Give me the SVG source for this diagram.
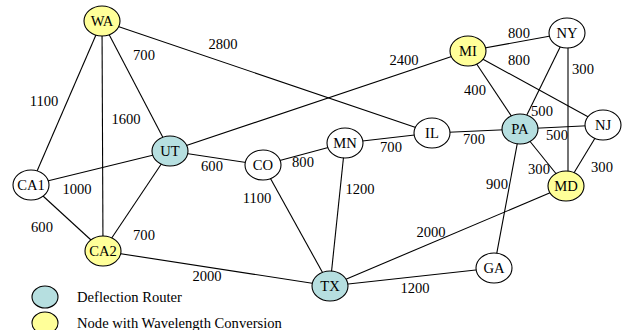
<svg xmlns="http://www.w3.org/2000/svg" width="624" height="330" viewBox="0 0 624 330">
<style>
.e{stroke:#000;stroke-width:1.1;fill:none}
.n ellipse{stroke:#000;stroke-width:1.1}
.w{fill:#fff}.y{fill:#ffff99}.c{fill:#b6dfe0}
text{font-family:"Liberation Serif","Times New Roman",serif;font-size:14.6px;fill:#000}
.n text{text-anchor:middle}
.l text{text-anchor:middle}
</style>
<rect width="624" height="330" fill="#fff"/>
<g id="connectors">
<line class="e" x1="102" y1="21" x2="31" y2="185"/>
<line class="e" x1="102" y1="21" x2="103" y2="251"/>
<line class="e" x1="102" y1="21" x2="170" y2="151"/>
<line class="e" x1="102" y1="21" x2="432" y2="133"/>
<line class="e" x1="170" y1="151" x2="468" y2="51"/>
<line class="e" x1="31" y1="185" x2="170" y2="151"/>
<line class="e" x1="170" y1="151" x2="263" y2="165"/>
<line class="e" x1="170" y1="151" x2="103" y2="251"/>
<line class="e" x1="31" y1="185" x2="103" y2="251"/>
<line class="e" x1="103" y1="251" x2="330" y2="286"/>
<line class="e" x1="263" y1="165" x2="345" y2="143"/>
<line class="e" x1="263" y1="165" x2="330" y2="286"/>
<line class="e" x1="345" y1="143" x2="432" y2="133"/>
<line class="e" x1="345" y1="143" x2="330" y2="286"/>
<line class="e" x1="432" y1="133" x2="520" y2="129"/>
<line class="e" x1="468" y1="51" x2="567" y2="33"/>
<line class="e" x1="468" y1="51" x2="603" y2="125"/>
<line class="e" x1="468" y1="51" x2="520" y2="129"/>
<line class="e" x1="567" y1="33" x2="520" y2="129"/>
<line class="e" x1="568" y1="33" x2="568" y2="186"/>
<line class="e" x1="520" y1="129" x2="603" y2="125"/>
<line class="e" x1="520" y1="129" x2="566" y2="186"/>
<line class="e" x1="603" y1="125" x2="566" y2="186"/>
<line class="e" x1="520" y1="129" x2="494" y2="268"/>
<line class="e" x1="566" y1="186" x2="330" y2="286"/>
<line class="e" x1="330" y1="286" x2="494" y2="268"/>
</g>
<g id="labels" class="l">
<text x="144" y="60">700</text>
<text x="223" y="49">2800</text>
<text x="44" y="106">1100</text>
<text x="126" y="124">1600</text>
<text x="212" y="171">600</text>
<text x="303" y="167">800</text>
<text x="77" y="194">1000</text>
<text x="257" y="203">1100</text>
<text x="42" y="232">600</text>
<text x="144" y="240">700</text>
<text x="207" y="281">2000</text>
<text x="404" y="65">2400</text>
<text x="519" y="38">800</text>
<text x="519" y="65">800</text>
<text x="583" y="74">300</text>
<text x="475" y="95">400</text>
<text x="542" y="116">500</text>
<text x="557" y="140">500</text>
<text x="391" y="152">700</text>
<text x="474" y="144">700</text>
<text x="360" y="194">1200</text>
<text x="497" y="189">900</text>
<text x="539" y="174">300</text>
<text x="602" y="172">300</text>
<text x="431" y="237">2000</text>
<text x="415" y="293">1200</text>
</g>
<g id="WA" class="n"><ellipse class="y" cx="102" cy="21" rx="18" ry="15"/><text x="102" y="26">WA</text></g>
<g id="UT" class="n"><ellipse class="c" cx="170" cy="151" rx="18" ry="15"/><text x="170" y="156">UT</text></g>
<g id="CO" class="n"><ellipse class="w" cx="263" cy="165" rx="18" ry="15"/><text x="263" y="170">CO</text></g>
<g id="CA1" class="n"><ellipse class="w" cx="31" cy="185" rx="18" ry="15"/><text x="31" y="190">CA1</text></g>
<g id="CA2" class="n"><ellipse class="y" cx="103" cy="251" rx="18" ry="15"/><text x="103" y="256">CA2</text></g>
<g id="MN" class="n"><ellipse class="w" cx="345" cy="143" rx="18" ry="15"/><text x="345" y="148">MN</text></g>
<g id="IL" class="n"><ellipse class="w" cx="432" cy="133" rx="18" ry="15"/><text x="432" y="138">IL</text></g>
<g id="MI" class="n"><ellipse class="y" cx="468" cy="51" rx="18" ry="15"/><text x="468" y="56">MI</text></g>
<g id="NY" class="n"><ellipse class="w" cx="567" cy="33" rx="18" ry="15"/><text x="567" y="38">NY</text></g>
<g id="PA" class="n"><ellipse class="c" cx="520" cy="129" rx="18" ry="15"/><text x="520" y="134">PA</text></g>
<g id="NJ" class="n"><ellipse class="w" cx="603" cy="125" rx="18" ry="15"/><text x="603" y="130">NJ</text></g>
<g id="MD" class="n"><ellipse class="y" cx="566" cy="186" rx="18" ry="15"/><text x="566" y="191">MD</text></g>
<g id="GA" class="n"><ellipse class="w" cx="494" cy="268" rx="18" ry="15"/><text x="494" y="273">GA</text></g>
<g id="TX" class="n"><ellipse class="c" cx="330" cy="286" rx="18" ry="15"/><text x="330" y="291">TX</text></g>
<g id="legend">
<ellipse class="c" cx="45" cy="297" rx="13" ry="11" stroke="#000" stroke-width="1.1"/>
<text x="77" y="302">Deflection Router</text>
<ellipse class="y" cx="45" cy="323" rx="13" ry="11" stroke="#000" stroke-width="1.1"/>
<text x="77" y="328">Node with Wavelength Conversion</text>
</g>
</svg>
